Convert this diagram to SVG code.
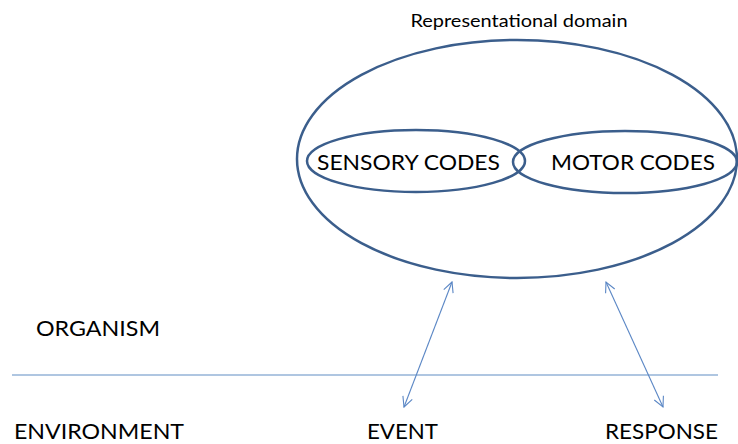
<svg xmlns="http://www.w3.org/2000/svg" width="738" height="444" viewBox="0 0 738 444">
<defs>
<style>
.ell{fill:none;stroke:#3B5E8C;stroke-width:2.5}
.t{font-family:Lato,"Open Sans","Liberation Sans",sans-serif;fill:#000}
.big{font-size:22px}
.small{font-size:17px}
.arr{stroke:#5B87C5;stroke-width:1.1;fill:none;marker-start:url(#head);marker-end:url(#head)}
</style>
<marker id="head" viewBox="0 0 12 12" refX="11" refY="6" markerWidth="12" markerHeight="12" markerUnits="userSpaceOnUse" orient="auto-start-reverse">
<path d="M1,1 L11,6 L1,11" fill="none" stroke="#5B87C5" stroke-width="1.1"/>
</marker>
</defs>
<rect width="738" height="444" fill="#fff"/>
<text class="t small" x="519" y="27" text-anchor="middle" textLength="217" lengthAdjust="spacingAndGlyphs">Representational domain</text>
<g id="domain"><ellipse class="ell" cx="517" cy="159" rx="220" ry="119"/></g>
<g id="sensory"><ellipse class="ell" cx="416" cy="161" rx="109" ry="31"/>
<text class="t big" x="317" y="170" textLength="183" lengthAdjust="spacingAndGlyphs">SENSORY CODES</text></g>
<g id="motor"><ellipse class="ell" cx="625" cy="162" rx="112" ry="31"/>
<text class="t big" x="551" y="170" textLength="164" lengthAdjust="spacingAndGlyphs">MOTOR CODES</text></g>
<g id="organism"><text class="t big" x="36" y="336" textLength="124" lengthAdjust="spacingAndGlyphs">ORGANISM</text></g>
<g id="environment"><text class="t big" x="14" y="439" textLength="170" lengthAdjust="spacingAndGlyphs">ENVIRONMENT</text></g>
<g id="event"><text class="t big" x="367" y="439" textLength="71" lengthAdjust="spacingAndGlyphs">EVENT</text></g>
<g id="response"><text class="t big" x="605" y="439" textLength="113" lengthAdjust="spacingAndGlyphs">RESPONSE</text></g>
<g id="connectors">
<line x1="12" y1="375" x2="718" y2="375" stroke="#95B3D7" stroke-width="1.5"/>
<line class="arr" x1="452" y1="282" x2="404" y2="407"/>
<line class="arr" x1="606" y1="282" x2="663" y2="407"/>
</g>
</svg>
